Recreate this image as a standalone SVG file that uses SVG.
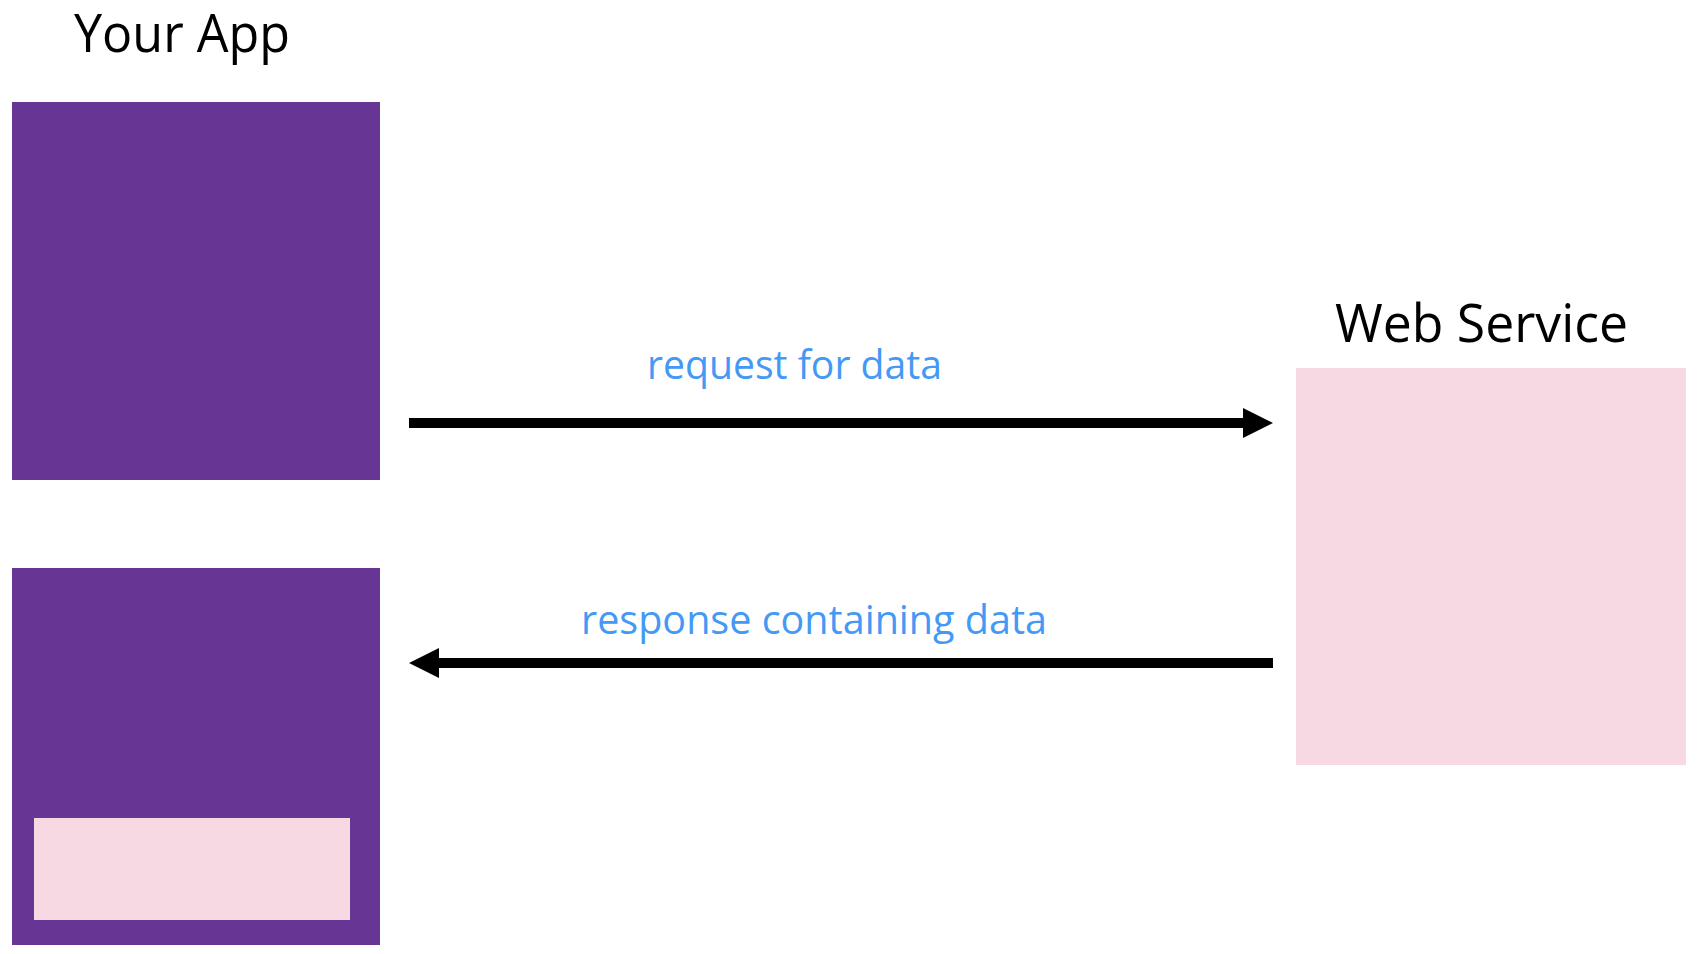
<svg xmlns="http://www.w3.org/2000/svg" width="1702" height="954" viewBox="0 0 1702 954">
  <style>
    .title { font-family: "Open Sans", "Noto Sans", sans-serif; font-size: 53px; fill: #000000; }
    .label { font-family: "Open Sans", "Noto Sans", sans-serif; font-size: 41px; fill: #4499f5; }
    .app { fill: #673695; }
    .svc { fill: #f6d9e2; }
    .conn { stroke: #000000; stroke-width: 10; fill: none; }
  </style>
  <defs>
    <marker id="arrow" markerUnits="userSpaceOnUse" viewBox="0 0 30 30" refX="1" refY="15" markerWidth="30" markerHeight="30" orient="auto">
      <path d="M0,0 L30,15 L0,30 Z" fill="#000000"/>
    </marker>
  </defs>
  <rect width="1702" height="954" fill="#ffffff"/>

  <g id="your-app-title">
    <text class="title" x="74" y="52" textLength="216" lengthAdjust="spacingAndGlyphs">Your App</text>
  </g>
  <g id="app-top">
    <rect class="app" x="12" y="102" width="368" height="378"/>
  </g>
  <g id="app-bottom">
    <rect class="app" x="12" y="568" width="368" height="377"/>
    <rect class="svc" x="34" y="818" width="316" height="102"/>
  </g>
  <g id="web-service">
    <text class="title" x="1335" y="342" textLength="293" lengthAdjust="spacingAndGlyphs">Web Service</text>
    <rect class="svc" x="1296" y="368" width="390" height="397"/>
  </g>

  <g id="connectors">
    <line class="conn" x1="409" y1="423" x2="1244" y2="423" marker-end="url(#arrow)"/>
    <line class="conn" x1="1273" y1="663" x2="438" y2="663" marker-end="url(#arrow)"/>
    <text class="label" x="647" y="379" textLength="295" lengthAdjust="spacingAndGlyphs">request for data</text>
    <text class="label" x="581" y="634" textLength="466" lengthAdjust="spacingAndGlyphs">response containing data</text>
  </g>
</svg>
